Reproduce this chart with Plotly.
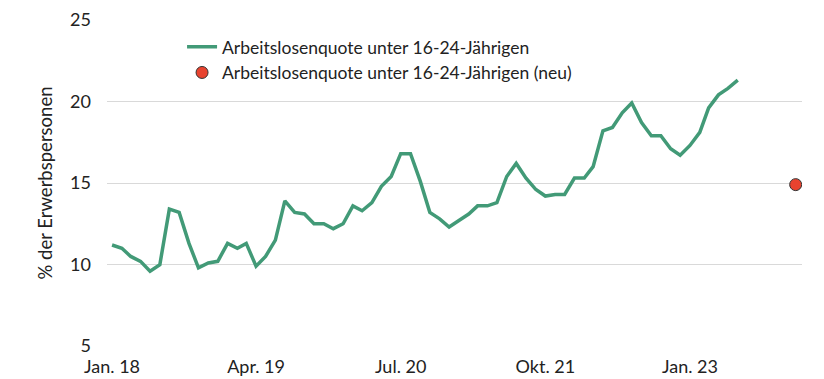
import plotly.graph_objects as go
import pandas as pd

months = pd.date_range("2018-01-01", "2023-06-01", freq="MS")
youth_rate = [
    11.2, 11.0, 10.5, 10.2, 9.6, 10.0, 13.4, 13.2, 11.3, 9.8, 10.1, 10.2,
    11.3, 11.0, 11.3, 9.9, 10.5, 11.5, 13.9, 13.2, 13.1, 12.5, 12.5, 12.2,
    12.5, 13.6, 13.3, 13.8, 14.8, 15.4, 16.8, 16.8, 15.1, 13.2, 12.8, 12.3,
    12.7, 13.1, 13.6, 13.6, 13.8, 15.4, 16.2, 15.3, 14.6, 14.2, 14.3, 14.3,
    15.3, 15.3, 16.0, 18.2, 18.4, 19.3, 19.9, 18.7, 17.9, 17.9, 17.1, 16.7,
    17.3, 18.1, 19.6, 20.4, 20.8, 21.3,
]
new_dates = ["2023-12-01"]
new_rate = [14.9]

tick_dates = ["2018-01-01", "2019-04-01", "2020-07-01", "2021-10-01", "2023-01-01"]
tick_labels = ["Jan. 18", "Apr. 19", "Jul. 20", "Okt. 21", "Jan. 23"]
y_ticks = [5, 10, 15, 20, 25]

fig = go.Figure()
fig.add_trace(go.Scatter(
    x=months, y=youth_rate, mode="lines",
    name="Arbeitslosenquote unter 16-24-Jährigen",
    line=dict(color="#429a77", width=3.5),
))
fig.add_trace(go.Scatter(
    x=new_dates, y=new_rate, mode="markers",
    name="Arbeitslosenquote unter 16-24-Jährigen (neu)",
    marker=dict(color="#e8432f", size=12, line=dict(color="#333333", width=1)),
))

fig.update_layout(
    width=824, height=379,
    margin=dict(l=107, r=22, t=19, b=32),
    paper_bgcolor="white", plot_bgcolor="white",
    font=dict(family="Lato", color="#222222"),
    showlegend=True,
    legend=dict(x=0.108, y=0.97, xanchor="left", yanchor="top",
                font=dict(size=17.5), bgcolor="rgba(0,0,0,0)", tracegroupgap=0),
)
fig.update_xaxes(
    type="date", automargin=False,
    range=["2017-12-16", "2023-12-21"],
    tickvals=tick_dates, ticktext=tick_labels,
    showgrid=False, zeroline=False, showline=False, ticks="",
    ticklabelstandoff=7,
    tickfont=dict(size=18, color="#222222"),
)
fig.update_yaxes(
    range=[4.95, 25.05], tickvals=y_ticks, automargin=False,
    showgrid=True, gridcolor="#d9d9d9", gridwidth=1,
    zeroline=False, showline=False, ticks="",
    ticklabelstandoff=15,
    tickfont=dict(size=18, color="#222222"),
    title=dict(text="% der Erwerbspersonen", font=dict(size=18.5, color="#222222"), standoff=12),
)
fig.write_html(
    "out.html",
    config={"displayModeBar": False},
    post_script="document.body.style.margin='0';document.body.style.overflow='hidden';",
)
